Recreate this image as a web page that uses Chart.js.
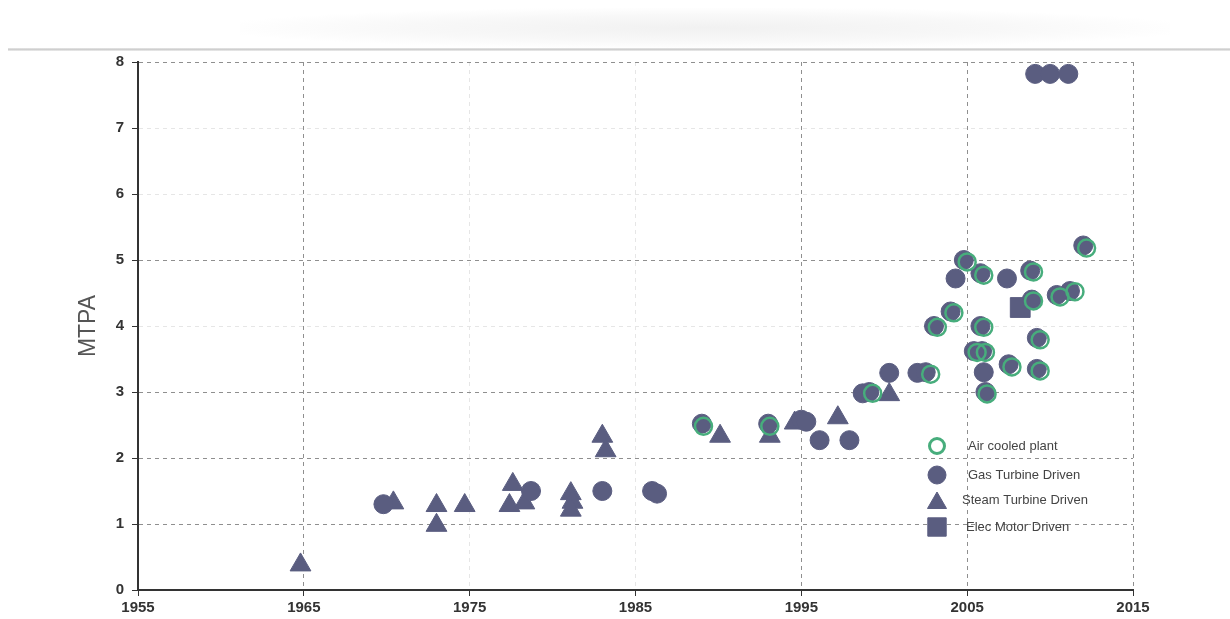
<!DOCTYPE html>
<html>
<head>
<meta charset="utf-8">
<script src="https://cdn.jsdelivr.net/npm/chart.js@4.4.1/dist/chart.umd.min.js"></script>
<style>
  body { margin: 0; background: #fff; }
  #wrap { position: relative; width: 1230px; height: 619px; overflow: hidden; }
  #scan { position: absolute; left: 240px; top: 8px; width: 930px; height: 40px;
          background: radial-gradient(ellipse at center, #f1f1f1 0%, #f8f8f8 45%, rgba(255,255,255,0) 75%); }
  #edge { position: absolute; left: 8px; top: 48px; width: 1222px; height: 3px;
          background: linear-gradient(to bottom, #e6e6e6, #cfcfcf, #eeeeee); }
  canvas { position: absolute; left: 0; top: 0; }
</style>
</head>
<body>
<div id="wrap">
  <div id="scan"></div>
  <div id="edge"></div>
  <canvas id="grafico" width="1230" height="619"></canvas>
</div>
<script>
// dados (ano, MTPA)
const anosGas = [1969.8, 1978.7, 1983.0, 1986.0, 1986.3, 1989.0, 1993.0, 1995.0, 1995.3, 1996.1,
  1997.9, 1998.7, 1999.1, 2000.3, 2002.0, 2002.5, 2003.0, 2004.0, 2004.3, 2004.8,
  2005.8, 2007.4, 2008.8, 2005.8, 2009.2, 2005.4, 2005.9, 2007.5, 2006.0, 2009.2,
  2006.1, 2008.9, 2010.4, 2011.2, 2012.0, 2009.1, 2010.0, 2011.1];
const mtpaGas = [1.30, 1.50, 1.50, 1.50, 1.46, 2.52, 2.52, 2.58, 2.55, 2.27,
  2.27, 2.98, 3.00, 3.29, 3.29, 3.30, 4.00, 4.22, 4.72, 5.00,
  4.80, 4.72, 4.84, 4.00, 3.82, 3.62, 3.62, 3.42, 3.30, 3.35,
  3.00, 4.40, 4.47, 4.53, 5.22, 7.82, 7.82, 7.82];

const anosVapor = [1964.8, 1970.4, 1973.0, 1973.0, 1974.7, 1977.4, 1977.6, 1978.3, 1981.1, 1981.2,
  1981.1, 1983.0, 1983.2, 1990.1, 1993.1, 1994.6, 1997.2, 2000.3];
const mtpaVapor = [0.38, 1.32, 1.28, 0.98, 1.28, 1.28, 1.60, 1.32, 1.46, 1.33,
  1.21, 2.33, 2.11, 2.33, 2.33, 2.53, 2.61, 2.96];

const anosEletrico = [2008.2];
const mtpaEletrico = [4.28];

const anosAr = [1989.1, 1993.1, 1999.3, 2002.8, 2003.2, 2004.2, 2005.0, 2006.0, 2009.0, 2006.0,
  2009.4, 2005.6, 2006.1, 2007.7, 2009.4, 2006.2, 2009.0, 2010.6, 2011.5, 2012.2];
const mtpaAr = [2.48, 2.48, 2.98, 3.27, 3.98, 4.20, 4.97, 4.77, 4.82, 3.98,
  3.79, 3.60, 3.60, 3.38, 3.32, 2.97, 4.38, 4.44, 4.52, 5.18];

const ticksX = [1955, 1965, 1975, 1985, 1995, 2005, 2015];
const ticksY = [0, 1, 2, 3, 4, 5, 6, 7, 8];
const legendas = ["Air cooled plant", "Gas Turbine Driven", "Steam Turbine Driven", "Elec Motor Driven"];

const cor = "#5a5d80";
const verde = "#47ad7c";
const fonte = "'Liberation Sans', Arial, sans-serif";

const pontos = (xs, ys) => xs.map((x, i) => ({ x, y: ys[i] }));

// legenda desenhada dentro da área do gráfico
const legendaInterna = {
  id: "legendaInterna",
  afterDraw(chart) {
    const ctx = chart.ctx;
    const estilos = [
      { style: "circle", radius: 7.5, fill: "rgba(0,0,0,0)", stroke: verde, width: 3 },
      { style: "circle", radius: 9, fill: cor, stroke: cor, width: 1 },
      { style: "triangle", radius: 11, fill: cor, stroke: cor, width: 1 },
      { style: "rect", radius: 13, fill: cor, stroke: cor, width: 1 },
    ];
    const ys = [446, 475, 500, 527];
    const xs = [968, 968, 962, 966];
    ctx.save();
    estilos.forEach((e, i) => {
      ctx.fillStyle = e.fill;
      ctx.strokeStyle = e.stroke;
      ctx.lineWidth = e.width;
      Chart.helpers.drawPoint(ctx, { pointStyle: e.style, radius: e.radius, borderWidth: e.width }, 937, e.style === "triangle" ? ys[i] + 3 : ys[i]);
      ctx.fillStyle = "#444";
      ctx.font = "13px " + fonte;
      ctx.textBaseline = "middle";
      ctx.textAlign = "left";
      ctx.fillText(legendas[i], xs[i], ys[i]);
    });
    ctx.restore();
  },
};

const corGradeX = (c) => ([1975, 1985].includes(c.tick && c.tick.value) ? "#e6e6e6" : "#8f8f8f");
const corGradeY = (c) => ([4, 6, 7].includes(c.tick && c.tick.value) ? "#e6e6e6" : "#8f8f8f");

new Chart(document.getElementById("grafico").getContext("2d"), {
  type: "scatter",
  data: {
    datasets: [
      {
        label: "Air cooled plant",
        data: pontos(anosAr, mtpaAr),
        order: 0,
        pointStyle: "circle",
        pointRadius: 8.5,
        backgroundColor: "rgba(0,0,0,0)",
        borderColor: verde,
        borderWidth: 2.5,
      },
      {
        label: "Gas Turbine Driven",
        data: pontos(anosGas, mtpaGas),
        order: 1,
        pointStyle: "circle",
        pointRadius: 9.5,
        backgroundColor: cor,
        borderColor: cor,
        borderWidth: 1,
      },
      {
        label: "Steam Turbine Driven",
        data: pontos(anosVapor, mtpaVapor),
        order: 2,
        pointStyle: "triangle",
        pointRadius: 12,
        backgroundColor: cor,
        borderColor: cor,
        borderWidth: 1,
      },
      {
        label: "Elec Motor Driven",
        data: pontos(anosEletrico, mtpaEletrico),
        order: 3,
        pointStyle: "rect",
        pointRadius: 14,
        backgroundColor: cor,
        borderColor: cor,
        borderWidth: 1,
      },
    ],
  },
  options: {
    responsive: false,
    animation: false,
    layout: { padding: { left: 0, top: 62, right: 97, bottom: 0 } },
    plugins: { legend: { display: false }, tooltip: { enabled: false } },
    scales: {
      x: {
        type: "linear",
        min: 1955,
        max: 2015,
        afterBuildTicks: (s) => { s.ticks = ticksX.map((v) => ({ value: v })); },
        afterFit: (s) => { s.height = 29; },
        ticks: {
          color: "#333",
          padding: 3,
          callback: (v) => String(v),
          font: { family: fonte, size: 15, weight: "bold" },
        },
        grid: { color: corGradeX, tickLength: 6, tickColor: "#333", tickBorderDash: [] },
        border: { color: "#333", width: 2, dash: [4, 4] },
      },
      y: {
        min: 0,
        max: 8,
        afterBuildTicks: (s) => { s.ticks = ticksY.map((v) => ({ value: v })); },
        afterFit: (s) => { s.width = 138; },
        ticks: {
          color: "#333",
          padding: 8,
          font: { family: fonte, size: 15, weight: "bold" },
        },
        grid: { color: corGradeY, tickLength: 6, tickColor: "#333", tickBorderDash: [] },
        border: { color: "#333", width: 2, dash: [4, 4] },
        title: {
          display: true,
          text: "MTPA",
          color: "#555",
          padding: { top: 75, bottom: 0 },
          font: { family: fonte, size: 23 },
        },
      },
    },
  },
  plugins: [legendaInterna],
});
</script>
</body>
</html>
